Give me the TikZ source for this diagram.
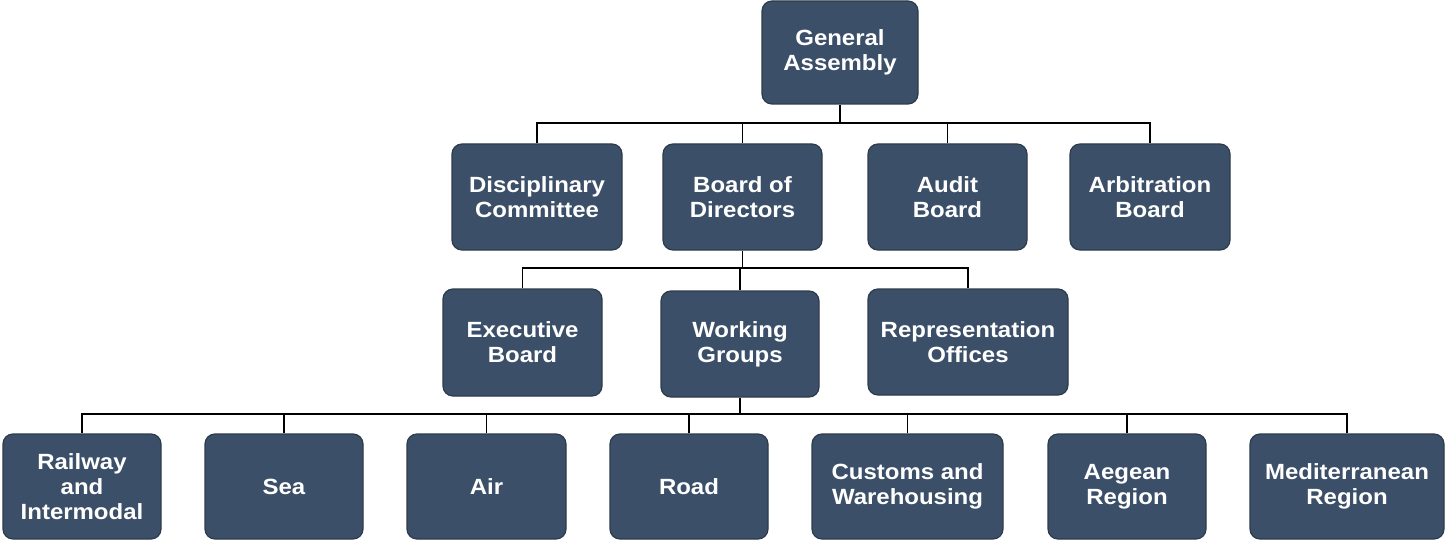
\documentclass[tikz,border=0pt]{standalone}
\usepackage{fontspec}
\setmainfont{Liberation Sans}
\newfontfamily\boxfont[FakeStretch=1.09]{Liberation Sans}
\definecolor{boxfill}{HTML}{3B5068}
\definecolor{boxedge}{HTML}{2C3B4C}
\begin{document}
\begin{tikzpicture}[x=1pt,y=-1pt,
  orgbox/.style={draw=boxedge, line width=1.2pt, fill=boxfill, rounded corners=10pt,
    text=white, font=\boxfont\bfseries\fontsize{22}{25}\selectfont, align=center,
    inner sep=0pt},
  link/.style={draw=black, line width=1.4pt}]
\useasboundingbox (0,0) rectangle (1445,540);
% level 1
\node[orgbox, minimum width=156, minimum height=103] (ga) at (840,52.5) {General\\Assembly};
% level 2
\node[orgbox, minimum width=170, minimum height=106] (dc) at (537,197) {Disciplinary\\Committee};
\node[orgbox, minimum width=159, minimum height=106] (bod) at (742.5,197) {Board of\\Directors};
\node[orgbox, minimum width=159, minimum height=106] (aud) at (947.5,197) {Audit\\Board};
\node[orgbox, minimum width=160, minimum height=106] (arb) at (1150,197) {Arbitration\\Board};
% level 3
\node[orgbox, minimum width=159, minimum height=107] (exe) at (522.5,342.5) {Executive\\Board};
\node[orgbox, minimum width=158, minimum height=106] (wg) at (740,344) {Working\\Groups};
\node[orgbox, minimum width=200, minimum height=106] (rep) at (968,342) {Representation\\Offices};
% level 4
\node[orgbox, minimum width=158, minimum height=105] (rail) at (82,486.5) {Railway\\and\\Intermodal};
\node[orgbox, minimum width=158, minimum height=105] (sea) at (284,486.5) {Sea};
\node[orgbox, minimum width=159, minimum height=105] (air) at (486.5,486.5) {Air};
\node[orgbox, minimum width=158, minimum height=105] (road) at (689,486.5) {Road};
\node[orgbox, minimum width=191, minimum height=105] (cus) at (907.5,486.5) {Customs and\\Warehousing};
\node[orgbox, minimum width=158, minimum height=105] (aeg) at (1127,486.5) {Aegean\\Region};
\node[orgbox, minimum width=194, minimum height=105] (med) at (1347,486.5) {Mediterranean\\Region};
% buses
\coordinate (b1) at (840,123);
\coordinate (b2) at (740,268);
\coordinate (b3) at (740,414);
\draw[link] (ga.south) -- (b1);
\foreach \c in {dc,bod,aud,arb} \draw[link] (\c.north) |- (b1);
\draw[link] (bod.south) |- (b2);
\foreach \c in {exe,wg,rep} \draw[link] (\c.north) |- (b2);
\draw[link] (wg.south) -- (b3);
\foreach \c in {rail,sea,air,road,cus,aeg,med} \draw[link] (\c.north) |- (b3);
\end{tikzpicture}
\end{document}
